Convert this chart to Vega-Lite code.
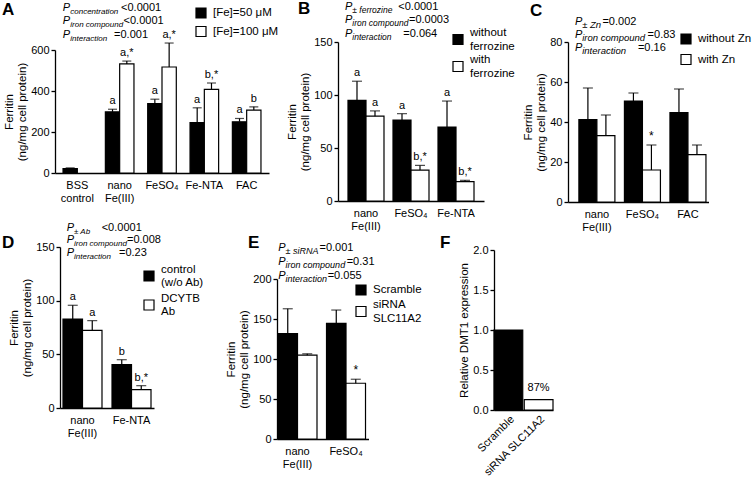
{
"$schema": "https://vega.github.io/schema/vega-lite/v6.json",
"width": 752, "height": 483,
"autosize": {"type": "none"},
"padding": 0,
"resolve": {"scale": {"x": "independent", "y": "independent", "fill": "independent"}, "axis": {"x": "independent", "y": "independent"}, "legend": {"fill": "independent"}},
"config": {
  "font": "Liberation Sans",
  "view": {"stroke": null},
  "axis": {"domainColor": "black", "domainWidth": 1.3, "tickColor": "black", "tickWidth": 1.3, "tickSize": 4, "labelColor": "black", "labelFontSize": 11, "titleFontSize": 11.5, "titleFontWeight": "normal", "titleColor": "black", "grid": false, "labelPadding": 2, "titlePadding": 3, "titleLineHeight": 13.5},
  "axisX": {"ticks": false, "labelAngle": 0, "labelPadding": 6, "labelLineHeight": 13},
  "legend": {"symbolType": "square", "symbolSize": 100, "symbolStrokeColor": "black", "symbolStrokeWidth": 1.2, "labelFontSize": 11.5, "labelColor": "black", "labelOffset": 6, "padding": 0, "labelLimit": 300},
  "text": {"color": "black"}
},
"datasets": {
  "A": [
    {"c": "BSS|control", "g": "[Fe]=50 μM", "m": 22, "hi": 25, "lab": ""},
    {"c": "nano|Fe(III)", "g": "[Fe]=50 μM", "m": 298, "hi": 311, "lab": "a"},
    {"c": "nano|Fe(III)", "g": "[Fe]=100 μM", "m": 532, "hi": 546, "lab": "a,*"},
    {"c": "FeSO₄", "g": "[Fe]=50 μM", "m": 338, "hi": 360, "lab": "a"},
    {"c": "FeSO₄", "g": "[Fe]=100 μM", "m": 517, "hi": 634, "lab": "a,*"},
    {"c": "Fe-NTA", "g": "[Fe]=50 μM", "m": 246, "hi": 318, "lab": "a"},
    {"c": "Fe-NTA", "g": "[Fe]=100 μM", "m": 408, "hi": 439, "lab": "b,*"},
    {"c": "FAC", "g": "[Fe]=50 μM", "m": 250, "hi": 266, "lab": "a"},
    {"c": "FAC", "g": "[Fe]=100 μM", "m": 307, "hi": 323, "lab": "b"}
  ],
  "B": [
    {"c": "nano|Fe(III)", "g": "without|ferrozine", "m": 95, "hi": 113, "lab": "a"},
    {"c": "nano|Fe(III)", "g": "with|ferrozine", "m": 80, "hi": 85, "lab": "a"},
    {"c": "FeSO₄", "g": "without|ferrozine", "m": 76.4, "hi": 82.4, "lab": "a"},
    {"c": "FeSO₄", "g": "with|ferrozine", "m": 29.2, "hi": 33.6, "lab": "b,*"},
    {"c": "Fe-NTA", "g": "without|ferrozine", "m": 69.8, "hi": 94.3, "lab": "a"},
    {"c": "Fe-NTA", "g": "with|ferrozine", "m": 18.2, "hi": 19.5, "lab": "b,*"}
  ],
  "C": [
    {"c": "nano|Fe(III)", "g": "without Zn", "m": 41.2, "hi": 57, "lab": ""},
    {"c": "nano|Fe(III)", "g": "with Zn", "m": 33.2, "hi": 43.5, "lab": ""},
    {"c": "FeSO₄", "g": "without Zn", "m": 50.5, "hi": 54.5, "lab": ""},
    {"c": "FeSO₄", "g": "with Zn", "m": 16, "hi": 28.5, "lab": "*"},
    {"c": "FAC", "g": "without Zn", "m": 44.7, "hi": 56.5, "lab": ""},
    {"c": "FAC", "g": "with Zn", "m": 23.7, "hi": 28.5, "lab": ""}
  ],
  "D": [
    {"c": "nano|Fe(III)", "g": "control|(w/o Ab)", "m": 82.9, "hi": 95.7, "lab": "a"},
    {"c": "nano|Fe(III)", "g": "DCYTB|Ab", "m": 72.4, "hi": 81.4, "lab": "a"},
    {"c": "Fe-NTA", "g": "control|(w/o Ab)", "m": 40.4, "hi": 45, "lab": "b"},
    {"c": "Fe-NTA", "g": "DCYTB|Ab", "m": 17.1, "hi": 20.8, "lab": "b,*"}
  ],
  "E": [
    {"c": "nano|Fe(III)", "g": "Scramble", "m": 131.9, "hi": 162.8, "lab": ""},
    {"c": "nano|Fe(III)", "g": "siRNA|SLC11A2", "m": 104.8, "hi": 106.5, "lab": ""},
    {"c": "FeSO₄", "g": "Scramble", "m": 144.5, "hi": 161.2, "lab": ""},
    {"c": "FeSO₄", "g": "siRNA|SLC11A2", "m": 69.7, "hi": 74.7, "lab": "*"}
  ],
  "F": [
    {"c": "Scramble", "m": 1.0, "lab": ""},
    {"c": "siRNA SLC11A2", "m": 0.13, "lab": "87%"}
  ]
},
"layer": [
{
  "data": {"name": "A"},
  "layer": [
    {"mark": {"type": "bar", "stroke": "black", "strokeWidth": 1.2, "width": 14.3, "xOffset": {"expr": "datum.g === '[Fe]=100 μM' ? 7.15 : -7.15"}},
     "encoding": {
       "x": {"field": "c", "type": "nominal", "scale": {"domain": ["BSS|control", "nano|Fe(III)", "FeSO₄", "Fe-NTA", "FAC"], "range": [55, 269], "paddingInner": 0.325, "paddingOuter": 0.19}, "axis": {"title": null, "orient": "bottom", "offset": -310, "labelExpr": "split(datum.label, '|')"}},
       "y": {"field": "m", "type": "quantitative", "stack": null, "scale": {"domain": [0, 600], "range": [173, 50], "nice": false}, "axis": {"orient": "left", "offset": -55, "title": ["Ferritin", "(ng/mg cell protein)"], "values": [0, 200, 400, 600]}},
       "fill": {"field": "g", "type": "nominal", "scale": {"domain": ["[Fe]=50 μM", "[Fe]=100 μM"], "range": ["black", "white"]}, "legend": {"title": null, "orient": "none", "legendX": 195, "legendY": 7, "rowPadding": 2.5}}
     }},
    {"mark": {"type": "rule", "color": "black", "strokeWidth": 1.2, "xOffset": {"expr": "datum.g === '[Fe]=100 μM' ? 7.15 : -7.15"}},
     "encoding": {"x": {"field": "c", "type": "nominal"}, "y": {"field": "m", "type": "quantitative"}, "y2": {"field": "hi"}}},
    {"mark": {"type": "tick", "color": "black", "thickness": 1.2, "size": 9, "xOffset": {"expr": "datum.g === '[Fe]=100 μM' ? 7.15 : -7.15"}},
     "encoding": {"x": {"field": "c", "type": "nominal"}, "y": {"field": "hi", "type": "quantitative"}}},
    {"mark": {"type": "text", "fontSize": 11, "dy": -5, "baseline": "alphabetic", "xOffset": {"expr": "datum.g === '[Fe]=100 μM' ? 7.15 : -7.15"}},
     "encoding": {"x": {"field": "c", "type": "nominal"}, "y": {"field": "hi", "type": "quantitative"}, "text": {"field": "lab"}}},
    {"data": {"values": [{}]}, "mark": {"type": "text", "text": "A", "fontSize": 17, "fontWeight": "bold", "align": "left", "baseline": "middle", "dx": -61, "dy": -40},
     "encoding": {"x": {"datum": "BSS|control", "bandPosition": 0}, "y": {"datum": 600}}},
    {"data": {"values": [{}]}, "mark": {"type": "text", "text": ["P", "P", "P"], "fontSize": 11, "fontStyle": "italic", "align": "left", "baseline": "alphabetic", "lineHeight": 13.5, "dx": -0.3, "dy": -39.5},
     "encoding": {"x": {"datum": "BSS|control", "bandPosition": 0}, "y": {"datum": 600}}},
    {"data": {"values": [{}]}, "mark": {"type": "text", "text": ["concentration", "iron compound", "interaction"], "fontSize": 8, "fontStyle": "italic", "align": "left", "baseline": "alphabetic", "lineHeight": 13.5, "dx": 7.2, "dy": -36.5},
     "encoding": {"x": {"datum": "BSS|control", "bandPosition": 0}, "y": {"datum": 600}}},
    {"data": {"values": [{}]}, "mark": {"type": "text", "text": "<0.0001", "fontSize": 11, "align": "left", "baseline": "alphabetic", "dx": 58, "dy": -39.5},
     "encoding": {"x": {"datum": "BSS|control", "bandPosition": 0}, "y": {"datum": 600}}},
    {"data": {"values": [{}]}, "mark": {"type": "text", "text": "<0.0001", "fontSize": 11, "align": "left", "baseline": "alphabetic", "dx": 60.5, "dy": -26},
     "encoding": {"x": {"datum": "BSS|control", "bandPosition": 0}, "y": {"datum": 600}}},
    {"data": {"values": [{}]}, "mark": {"type": "text", "text": "=0.001", "fontSize": 11, "align": "left", "baseline": "alphabetic", "dx": 51, "dy": -12.5},
     "encoding": {"x": {"datum": "BSS|control", "bandPosition": 0}, "y": {"datum": 600}}}
  ]
},
{
  "data": {"name": "B"},
  "layer": [
    {"mark": {"type": "bar", "stroke": "black", "strokeWidth": 1.2, "width": 18, "xOffset": {"expr": "datum.g === 'with|ferrozine' ? 9 : -9"}},
     "encoding": {
       "x": {"field": "c", "type": "nominal", "scale": {"domain": ["nano|Fe(III)", "FeSO₄", "Fe-NTA"], "range": [338, 484], "paddingInner": 0.2, "paddingOuter": 0.222}, "axis": {"title": null, "orient": "bottom", "offset": -282, "labelExpr": "split(datum.label, '|')"}},
       "y": {"field": "m", "type": "quantitative", "stack": null, "scale": {"domain": [0, 150], "range": [201, 42], "nice": false}, "axis": {"orient": "left", "offset": -338, "title": ["Ferritin", "(ng/mg cell protein)"], "values": [0, 50, 100, 150]}},
       "fill": {"field": "g", "type": "nominal", "scale": {"domain": ["without|ferrozine", "with|ferrozine"], "range": ["black", "white"]}, "legend": {"title": null, "orient": "none", "legendX": 452, "legendY": 27, "rowPadding": 2, "labelExpr": "split(datum.label, '|')", "encode": {"symbols": {"update": {"y": {"signal": "datum.size * 0.5 + (indexof(datum.label, '|') >= 0 ? 6.5 : 0)"}}}}}}
     }},
    {"mark": {"type": "rule", "color": "black", "strokeWidth": 1.2, "xOffset": {"expr": "datum.g === 'with|ferrozine' ? 9 : -9"}},
     "encoding": {"x": {"field": "c", "type": "nominal"}, "y": {"field": "m", "type": "quantitative"}, "y2": {"field": "hi"}}},
    {"mark": {"type": "tick", "color": "black", "thickness": 1.2, "size": 10, "xOffset": {"expr": "datum.g === 'with|ferrozine' ? 9 : -9"}},
     "encoding": {"x": {"field": "c", "type": "nominal"}, "y": {"field": "hi", "type": "quantitative"}}},
    {"mark": {"type": "text", "fontSize": 11, "dy": -5, "baseline": "alphabetic", "xOffset": {"expr": "datum.g === 'with|ferrozine' ? 9 : -9"}},
     "encoding": {"x": {"field": "c", "type": "nominal"}, "y": {"field": "hi", "type": "quantitative"}, "text": {"field": "lab"}}},
    {"data": {"values": [{}]}, "mark": {"type": "text", "text": "B", "fontSize": 17, "fontWeight": "bold", "align": "left", "baseline": "middle", "dx": -50, "dy": -33},
     "encoding": {"x": {"datum": "nano|Fe(III)", "bandPosition": 0}, "y": {"datum": 150}}},
    {"data": {"values": [{}]}, "mark": {"type": "text", "text": ["P", "P", "P"], "fontSize": 11, "fontStyle": "italic", "align": "left", "baseline": "alphabetic", "lineHeight": 13.3, "dx": -3, "dy": -32},
     "encoding": {"x": {"datum": "nano|Fe(III)", "bandPosition": 0}, "y": {"datum": 150}}},
    {"data": {"values": [{}]}, "mark": {"type": "text", "text": ["± ferrozine", "iron compound", "interaction"], "fontSize": 8.5, "fontStyle": "italic", "align": "left", "baseline": "alphabetic", "lineHeight": 13.3, "dx": 4.3, "dy": -29},
     "encoding": {"x": {"datum": "nano|Fe(III)", "bandPosition": 0}, "y": {"datum": 150}}},
    {"data": {"values": [{}]}, "mark": {"type": "text", "text": "<0.0001", "fontSize": 11, "align": "left", "baseline": "alphabetic", "dx": 50.3, "dy": -32},
     "encoding": {"x": {"datum": "nano|Fe(III)", "bandPosition": 0}, "y": {"datum": 150}}},
    {"data": {"values": [{}]}, "mark": {"type": "text", "text": "=0.0003", "fontSize": 11, "align": "left", "baseline": "alphabetic", "dx": 61, "dy": -18.7},
     "encoding": {"x": {"datum": "nano|Fe(III)", "bandPosition": 0}, "y": {"datum": 150}}},
    {"data": {"values": [{}]}, "mark": {"type": "text", "text": "=0.064", "fontSize": 11, "align": "left", "baseline": "alphabetic", "dx": 55.3, "dy": -5.4},
     "encoding": {"x": {"datum": "nano|Fe(III)", "bandPosition": 0}, "y": {"datum": 150}}}
  ]
},
{
  "data": {"name": "C"},
  "layer": [
    {"mark": {"type": "bar", "stroke": "black", "strokeWidth": 1.2, "width": 18, "xOffset": {"expr": "datum.g === 'with Zn' ? 9 : -9"}},
     "encoding": {
       "x": {"field": "c", "type": "nominal", "scale": {"domain": ["nano|Fe(III)", "FeSO₄", "FAC"], "range": [568, 708.5], "paddingInner": 0.21, "paddingOuter": 0.148, "align": 0.81}, "axis": {"title": null, "orient": "bottom", "offset": -281, "labelExpr": "split(datum.label, '|')"}},
       "y": {"field": "m", "type": "quantitative", "stack": null, "scale": {"domain": [0, 80], "range": [202, 42], "nice": false}, "axis": {"orient": "left", "offset": -568, "title": ["Ferritin", "(ng/mg cell protein)"], "values": [0, 20, 40, 60, 80]}},
       "fill": {"field": "g", "type": "nominal", "scale": {"domain": ["without Zn", "with Zn"], "range": ["black", "white"]}, "legend": {"title": null, "orient": "none", "legendX": 680, "legendY": 33, "rowPadding": 4.5}}
     }},
    {"mark": {"type": "rule", "color": "black", "strokeWidth": 1.2, "xOffset": {"expr": "datum.g === 'with Zn' ? 9 : -9"}},
     "encoding": {"x": {"field": "c", "type": "nominal"}, "y": {"field": "m", "type": "quantitative"}, "y2": {"field": "hi"}}},
    {"mark": {"type": "tick", "color": "black", "thickness": 1.2, "size": 10, "xOffset": {"expr": "datum.g === 'with Zn' ? 9 : -9"}},
     "encoding": {"x": {"field": "c", "type": "nominal"}, "y": {"field": "hi", "type": "quantitative"}}},
    {"mark": {"type": "text", "fontSize": 12, "dy": -5, "baseline": "alphabetic", "xOffset": {"expr": "datum.g === 'with Zn' ? 9 : -9"}},
     "encoding": {"x": {"field": "c", "type": "nominal"}, "y": {"field": "hi", "type": "quantitative"}, "text": {"field": "lab"}}},
    {"data": {"values": [{}]}, "mark": {"type": "text", "text": "C", "fontSize": 17, "fontWeight": "bold", "align": "left", "baseline": "middle", "dx": -49, "dy": -31},
     "encoding": {"x": {"datum": "nano|Fe(III)", "bandPosition": 0}, "y": {"datum": 80}}},
    {"data": {"values": [{}]}, "mark": {"type": "text", "text": ["P", "P", "P"], "fontSize": 11, "fontStyle": "italic", "align": "left", "baseline": "alphabetic", "lineHeight": 13, "dx": -4, "dy": -17.3},
     "encoding": {"x": {"datum": "nano|Fe(III)", "bandPosition": 0}, "y": {"datum": 80}}},
    {"data": {"values": [{}]}, "mark": {"type": "text", "text": ["± Zn", "iron compound", "interaction"], "fontSize": 9.5, "fontStyle": "italic", "align": "left", "baseline": "alphabetic", "lineHeight": 13, "dx": 3.3, "dy": -14.3},
     "encoding": {"x": {"datum": "nano|Fe(III)", "bandPosition": 0}, "y": {"datum": 80}}},
    {"data": {"values": [{}]}, "mark": {"type": "text", "text": "=0.002", "fontSize": 11, "align": "left", "baseline": "alphabetic", "dx": 23.5, "dy": -17.3},
     "encoding": {"x": {"datum": "nano|Fe(III)", "bandPosition": 0}, "y": {"datum": 80}}},
    {"data": {"values": [{}]}, "mark": {"type": "text", "text": "=0.83", "fontSize": 11, "align": "left", "baseline": "alphabetic", "dx": 68.7, "dy": -4.3},
     "encoding": {"x": {"datum": "nano|Fe(III)", "bandPosition": 0}, "y": {"datum": 80}}},
    {"data": {"values": [{}]}, "mark": {"type": "text", "text": "=0.16", "fontSize": 11, "align": "left", "baseline": "alphabetic", "dx": 59, "dy": 8.7},
     "encoding": {"x": {"datum": "nano|Fe(III)", "bandPosition": 0}, "y": {"datum": 80}}}
  ]
},
{
  "data": {"name": "D"},
  "layer": [
    {"mark": {"type": "bar", "stroke": "black", "strokeWidth": 1.2, "width": 19.5, "xOffset": {"expr": "datum.g === 'DCYTB|Ab' ? 9.75 : -9.75"}},
     "encoding": {
       "x": {"field": "c", "type": "nominal", "scale": {"domain": ["nano|Fe(III)", "Fe-NTA"], "range": [60, 154], "paddingInner": 0.204, "paddingOuter": 0.061}, "axis": {"title": null, "orient": "bottom", "offset": -75, "labelExpr": "split(datum.label, '|')"}},
       "y": {"field": "m", "type": "quantitative", "stack": null, "scale": {"domain": [0, 150], "range": [408, 247], "nice": false}, "axis": {"orient": "left", "offset": -60, "title": ["Ferritin", "(ng/mg cell protein)"], "values": [0, 50, 100, 150]}},
       "fill": {"field": "g", "type": "nominal", "scale": {"domain": ["control|(w/o Ab)", "DCYTB|Ab"], "range": ["black", "white"]}, "legend": {"title": null, "orient": "none", "legendX": 143, "legendY": 263.5, "rowPadding": 4, "labelExpr": "split(datum.label, '|')", "encode": {"symbols": {"update": {"y": {"signal": "datum.size * 0.5 + (indexof(datum.label, '|') >= 0 ? 6.5 : 0)"}}}}}}
     }},
    {"mark": {"type": "rule", "color": "black", "strokeWidth": 1.2, "xOffset": {"expr": "datum.g === 'DCYTB|Ab' ? 9.75 : -9.75"}},
     "encoding": {"x": {"field": "c", "type": "nominal"}, "y": {"field": "m", "type": "quantitative"}, "y2": {"field": "hi"}}},
    {"mark": {"type": "tick", "color": "black", "thickness": 1.2, "size": 10, "xOffset": {"expr": "datum.g === 'DCYTB|Ab' ? 9.75 : -9.75"}},
     "encoding": {"x": {"field": "c", "type": "nominal"}, "y": {"field": "hi", "type": "quantitative"}}},
    {"mark": {"type": "text", "fontSize": 11, "dy": -5, "baseline": "alphabetic", "xOffset": {"expr": "datum.g === 'DCYTB|Ab' ? 9.75 : -9.75"}},
     "encoding": {"x": {"field": "c", "type": "nominal"}, "y": {"field": "hi", "type": "quantitative"}, "text": {"field": "lab"}}},
    {"data": {"values": [{}]}, "mark": {"type": "text", "text": "D", "fontSize": 17, "fontWeight": "bold", "align": "left", "baseline": "middle", "dx": -61, "dy": -4},
     "encoding": {"x": {"datum": "nano|Fe(III)", "bandPosition": 0}, "y": {"datum": 150}}},
    {"data": {"values": [{}]}, "mark": {"type": "text", "text": ["P", "P", "P"], "fontSize": 11, "fontStyle": "italic", "align": "left", "baseline": "alphabetic", "lineHeight": 12.5, "dx": 3.7, "dy": -16.3},
     "encoding": {"x": {"datum": "nano|Fe(III)", "bandPosition": 0}, "y": {"datum": 150}}},
    {"data": {"values": [{}]}, "mark": {"type": "text", "text": ["± Ab", "iron compound", "interaction"], "fontSize": 8, "fontStyle": "italic", "align": "left", "baseline": "alphabetic", "lineHeight": 12.5, "dx": 11, "dy": -13.3},
     "encoding": {"x": {"datum": "nano|Fe(III)", "bandPosition": 0}, "y": {"datum": 150}}},
    {"data": {"values": [{}]}, "mark": {"type": "text", "text": "<0.0001", "fontSize": 11, "align": "left", "baseline": "alphabetic", "dx": 38.7, "dy": -16.3},
     "encoding": {"x": {"datum": "nano|Fe(III)", "bandPosition": 0}, "y": {"datum": 150}}},
    {"data": {"values": [{}]}, "mark": {"type": "text", "text": "=0.008", "fontSize": 11, "align": "left", "baseline": "alphabetic", "dx": 64, "dy": -3.8},
     "encoding": {"x": {"datum": "nano|Fe(III)", "bandPosition": 0}, "y": {"datum": 150}}},
    {"data": {"values": [{}]}, "mark": {"type": "text", "text": "=0.23", "fontSize": 11, "align": "left", "baseline": "alphabetic", "dx": 56, "dy": 8.7},
     "encoding": {"x": {"datum": "nano|Fe(III)", "bandPosition": 0}, "y": {"datum": 150}}}
  ]
},
{
  "data": {"name": "E"},
  "layer": [
    {"mark": {"type": "bar", "stroke": "black", "strokeWidth": 1.2, "width": 19.5, "xOffset": {"expr": "datum.g === 'siRNA|SLC11A2' ? 9.75 : -9.75"}},
     "encoding": {
       "x": {"field": "c", "type": "nominal", "scale": {"domain": ["nano|Fe(III)", "FeSO₄"], "range": [277, 368.5], "paddingInner": 0.196, "paddingOuter": 0.041, "align": 0.25}, "axis": {"title": null, "orient": "bottom", "offset": -44, "labelExpr": "split(datum.label, '|')"}},
       "y": {"field": "m", "type": "quantitative", "stack": null, "scale": {"domain": [0, 200], "range": [439, 279], "nice": false}, "axis": {"orient": "left", "offset": -277, "title": ["Ferritin", "(ng/mg cell protein)"], "values": [0, 50, 100, 150, 200]}},
       "fill": {"field": "g", "type": "nominal", "scale": {"domain": ["Scramble", "siRNA|SLC11A2"], "range": ["black", "white"]}, "legend": {"title": null, "orient": "none", "legendX": 355, "legendY": 284, "rowPadding": 1, "labelExpr": "split(datum.label, '|')", "encode": {"symbols": {"update": {"y": {"signal": "datum.size * 0.5 + (indexof(datum.label, '|') >= 0 ? 6.5 : 0)"}}}}}}
     }},
    {"mark": {"type": "rule", "color": "black", "strokeWidth": 1.2, "xOffset": {"expr": "datum.g === 'siRNA|SLC11A2' ? 9.75 : -9.75"}},
     "encoding": {"x": {"field": "c", "type": "nominal"}, "y": {"field": "m", "type": "quantitative"}, "y2": {"field": "hi"}}},
    {"mark": {"type": "tick", "color": "black", "thickness": 1.2, "size": 10, "xOffset": {"expr": "datum.g === 'siRNA|SLC11A2' ? 9.75 : -9.75"}},
     "encoding": {"x": {"field": "c", "type": "nominal"}, "y": {"field": "hi", "type": "quantitative"}}},
    {"mark": {"type": "text", "fontSize": 12, "dy": -5, "baseline": "alphabetic", "xOffset": {"expr": "datum.g === 'siRNA|SLC11A2' ? 9.75 : -9.75"}},
     "encoding": {"x": {"field": "c", "type": "nominal"}, "y": {"field": "hi", "type": "quantitative"}, "text": {"field": "lab"}}},
    {"data": {"values": [{}]}, "mark": {"type": "text", "text": "E", "fontSize": 17, "fontWeight": "bold", "align": "left", "baseline": "middle", "dx": -30, "dy": -36},
     "encoding": {"x": {"datum": "nano|Fe(III)", "bandPosition": 0}, "y": {"datum": 200}}},
    {"data": {"values": [{}]}, "mark": {"type": "text", "text": ["P", "P", "P"], "fontSize": 11, "fontStyle": "italic", "align": "left", "baseline": "alphabetic", "lineHeight": 14.2, "dx": 0.3, "dy": -28},
     "encoding": {"x": {"datum": "nano|Fe(III)", "bandPosition": 0}, "y": {"datum": 200}}},
    {"data": {"values": [{}]}, "mark": {"type": "text", "text": ["± siRNA", "iron compound", "interaction"], "fontSize": 9, "fontStyle": "italic", "align": "left", "baseline": "alphabetic", "lineHeight": 14.2, "dx": 7.6, "dy": -25},
     "encoding": {"x": {"datum": "nano|Fe(III)", "bandPosition": 0}, "y": {"datum": 200}}},
    {"data": {"values": [{}]}, "mark": {"type": "text", "text": "=0.001", "fontSize": 11, "align": "left", "baseline": "alphabetic", "dx": 41.5, "dy": -28},
     "encoding": {"x": {"datum": "nano|Fe(III)", "bandPosition": 0}, "y": {"datum": 200}}},
    {"data": {"values": [{}]}, "mark": {"type": "text", "text": "=0.31", "fontSize": 11, "align": "left", "baseline": "alphabetic", "dx": 68.7, "dy": -13.8},
     "encoding": {"x": {"datum": "nano|Fe(III)", "bandPosition": 0}, "y": {"datum": 200}}},
    {"data": {"values": [{}]}, "mark": {"type": "text", "text": "=0.055", "fontSize": 11, "align": "left", "baseline": "alphabetic", "dx": 49.7, "dy": 0.4},
     "encoding": {"x": {"datum": "nano|Fe(III)", "bandPosition": 0}, "y": {"datum": 200}}}
  ]
},
{
  "data": {"name": "F"},
  "layer": [
    {"mark": {"type": "bar", "stroke": "black", "strokeWidth": 1.2},
     "encoding": {
       "x": {"field": "c", "type": "nominal", "scale": {"domain": ["Scramble", "siRNA SLC11A2"], "range": [494, 553], "paddingInner": 0.05, "paddingOuter": 0}, "axis": {"title": null, "orient": "bottom", "offset": -73, "labelAngle": -45, "labelPadding": 3}},
       "y": {"field": "m", "type": "quantitative", "stack": null, "scale": {"domain": [0, 2], "range": [410, 250], "nice": false}, "axis": {"orient": "left", "offset": -494, "title": "Relative DMT1 expression", "values": [0, 0.5, 1, 1.5, 2], "format": ".1f"}},
       "fill": {"field": "c", "type": "nominal", "scale": {"domain": ["Scramble", "siRNA SLC11A2"], "range": ["black", "white"]}, "legend": null}
     }},
    {"mark": {"type": "text", "fontSize": 11, "dy": -9, "baseline": "alphabetic"},
     "encoding": {"x": {"field": "c", "type": "nominal"}, "y": {"field": "m", "type": "quantitative"}, "text": {"field": "lab"}}},
    {"data": {"values": [{}]}, "mark": {"type": "text", "text": "F", "fontSize": 17, "fontWeight": "bold", "align": "left", "baseline": "middle", "dx": -54, "dy": -7},
     "encoding": {"x": {"datum": "Scramble", "bandPosition": 0}, "y": {"datum": 2}}}
  ]
}
]
}
